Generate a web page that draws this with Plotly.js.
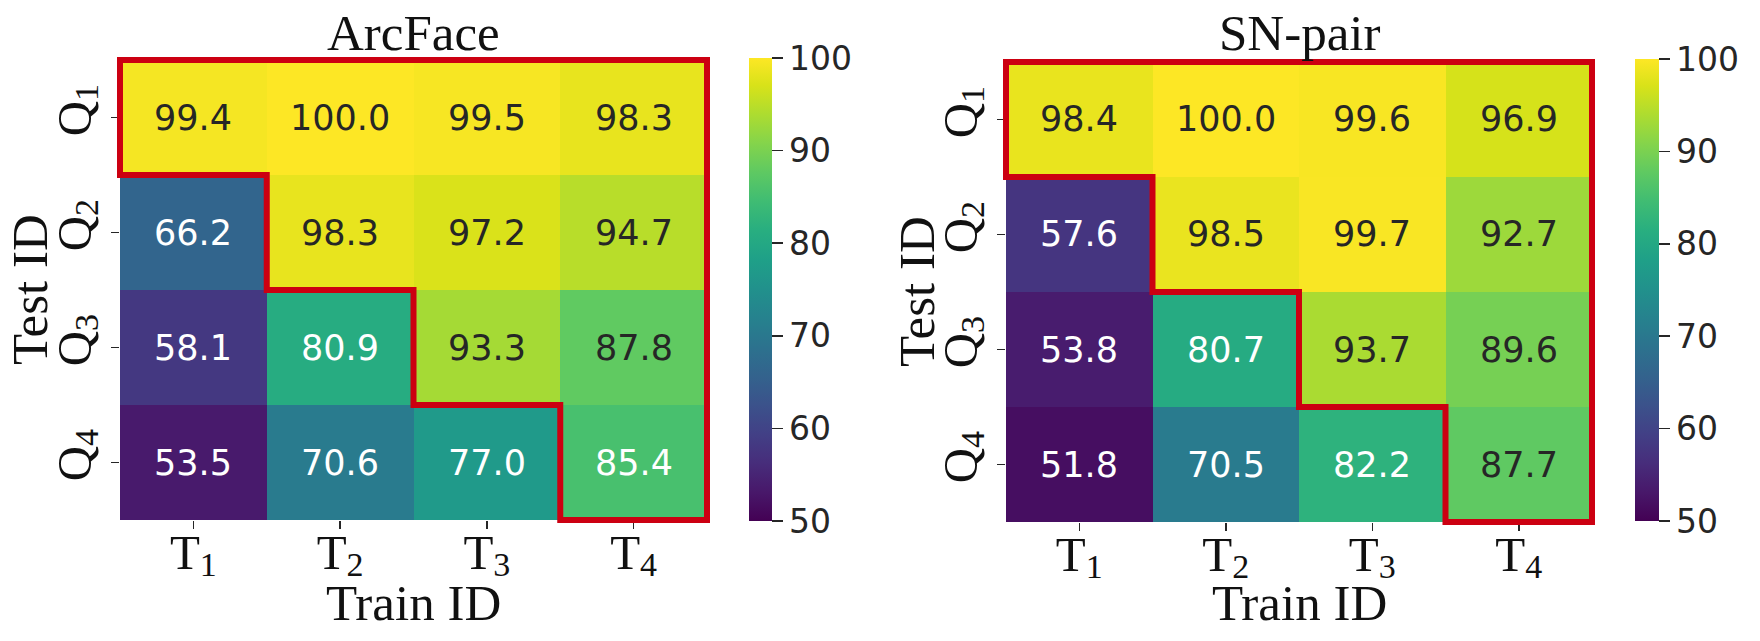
<!DOCTYPE html>
<html><head><meta charset="utf-8">
<script src="https://cdn.plot.ly/plotly-3.0.1.min.js"></script>
<style>html,body{margin:0;padding:0;background:#fff}#chart{width:1760px;height:641px}</style>
</head><body><div id="chart"></div>
<script>
// ---- data ----
const trainIds = ['T1', 'T2', 'T3', 'T4'];
const testIds = ['Q1', 'Q2', 'Q3', 'Q4'];
const trainTickText = ['T', 'T', 'T', 'T'];
const testTickText = ['Q', 'Q', 'Q', 'Q'];
const tickSubscripts = ['1', '2', '3', '4'];
const arcfaceValues = [
  [99.4, 100.0, 99.5, 98.3],
  [66.2, 98.3, 97.2, 94.7],
  [58.1, 80.9, 93.3, 87.8],
  [53.5, 70.6, 77.0, 85.4]
];
const snpairValues = [
  [98.4, 100.0, 99.6, 96.9],
  [57.6, 98.5, 99.7, 92.7],
  [53.8, 80.7, 93.7, 89.6],
  [51.8, 70.5, 82.2, 87.7]
];
const panelTitles = ['ArcFace', 'SN-pair'];
const colorbarTicks = [50, 60, 70, 80, 90, 100];
const xTitle = 'Train ID';
const yTitle = 'Test ID';

// ---- styling ----
const W = 1760, H = 641;
const SERIF = 'Liberation Serif, Times New Roman, serif';
const SANS = 'DejaVu Sans, sans-serif';
const INK = '#262626';
const RED = '#cc0011';
const sub = (base, s) => `${base}<span style="font-size:34px;baseline-shift:-7px">${s}</span>`;
const panels = [
  {vals: arcfaceValues, title: panelTitles[0], px: [120, 707], py: [60, 520], cb: {x0: 749, w: 23, y0: 58, y1: 521}, ytitleX: 30},
  {vals: snpairValues, title: panelTitles[1], px: [1006, 1592], py: [62, 522], cb: {x0: 1635, w: 24, y0: 59, y1: 521}, ytitleX: 917}
];

const data = [], annotations = [], shapes = [];
const layout = {
  width: W, height: H, margin: {l: 0, r: 0, t: 0, b: 0},
  paper_bgcolor: '#fff', plot_bgcolor: '#fff', showlegend: false
};

panels.forEach((p, k) => {
  const xa = k === 0 ? 'x' : 'x2', ya = k === 0 ? 'y' : 'y2';
  const xaKey = k === 0 ? 'xaxis' : 'xaxis2', yaKey = k === 0 ? 'yaxis' : 'yaxis2';
  data.push({
    type: 'heatmap', x: trainIds, y: testIds, z: p.vals, xaxis: xa, yaxis: ya,
    zmin: 50, zmax: 100, colorscale: 'Viridis', hoverinfo: 'skip', xgap: 0, ygap: 0,
    colorbar: {
      x: p.cb.x0 / W, xanchor: 'left', xpad: 0,
      y: 1 - (p.cb.y0 + p.cb.y1) / 2 / H, yanchor: 'middle', ypad: 0,
      len: (p.cb.y1 - p.cb.y0) / H, lenmode: 'fraction',
      thickness: p.cb.w, thicknessmode: 'pixels', outlinewidth: 0,
      tickvals: colorbarTicks, ticks: 'outside', ticklen: 11, tickwidth: 1.5, tickcolor: INK,
      tickfont: {family: SANS, size: 33, color: INK}
    }
  });
  layout[xaKey] = {
    domain: [p.px[0] / W, p.px[1] / W], anchor: ya, type: 'category',
    tickvals: trainIds, ticktext: trainTickText.map((t, i) => sub(t, tickSubscripts[i])),
    ticks: 'outside', ticklen: 8, tickwidth: 1.5, tickcolor: INK,
    ticklabelstandoff: -19,
    tickfont: {family: SERIF, size: 49, color: '#111'}, showgrid: false, zeroline: false, showline: false,
    range: [-0.5, trainIds.length - 0.5], fixedrange: true
  };
  layout[yaKey] = {
    domain: [1 - p.py[1] / H, 1 - p.py[0] / H], anchor: xa, type: 'category',
    tickvals: testIds, ticktext: testTickText.map((t, i) => sub(t, tickSubscripts[i])),
    ticks: 'outside', ticklen: 8, tickwidth: 1.5, tickcolor: INK,
    tickangle: -90, ticklabelstandoff: 0,
    tickfont: {family: SERIF, size: 49, color: '#111'}, showgrid: false, zeroline: false, showline: false,
    range: [testIds.length - 0.5, -0.5], fixedrange: true
  };
  // cell labels
  p.vals.forEach((row, r) => row.forEach((v, c) => {
    annotations.push({
      xref: xa, yref: ya, x: trainIds[c], y: testIds[r], text: v.toFixed(1), showarrow: false,
      font: {family: SANS, size: 35, color: v < 86.5 ? '#ffffff' : INK}
    });
  }));
  // panel title
  annotations.push({xref: xa + ' domain', yref: 'paper', x: 0.5, y: 1 - 33 / H, yanchor: 'middle',
    text: p.title, showarrow: false, font: {family: SERIF, size: 51, color: '#111'}});
  // axis titles
  annotations.push({xref: xa + ' domain', yref: 'paper', x: 0.5, y: 1 - 603 / H, yanchor: 'middle',
    text: xTitle, showarrow: false, font: {family: SERIF, size: 51, color: '#111'}});
  annotations.push({xref: 'paper', yref: ya + ' domain', x: p.ytitleX / W, y: 0.5, xanchor: 'center', textangle: -90,
    text: yTitle, showarrow: false, font: {family: SERIF, size: 51, color: '#111'}});
  // staircase outline around cells where train index >= test index
  const n = trainIds.length;
  let d = 'M 0 1 L 1 1 L 1 0';
  for (let i = n; i >= 1; i--) {
    const yb = 1 - i / n, xl = (i - 1) / n;
    d += ` L ${i / n} ${yb} L ${xl} ${yb}`;
    if (i > 1) d += ` L ${xl} ${1 - (i - 1) / n}`;
  }
  d += ' Z';
  shapes.push({type: 'path', xref: xa + ' domain', yref: ya + ' domain', path: d, layer: 'above',
    line: {color: RED, width: 6}, fillcolor: 'rgba(0,0,0,0)'});
});
layout.annotations = annotations;
layout.shapes = shapes;
Plotly.newPlot('chart', data, layout, {displayModeBar: false, staticPlot: true});
</script>
</body></html>
